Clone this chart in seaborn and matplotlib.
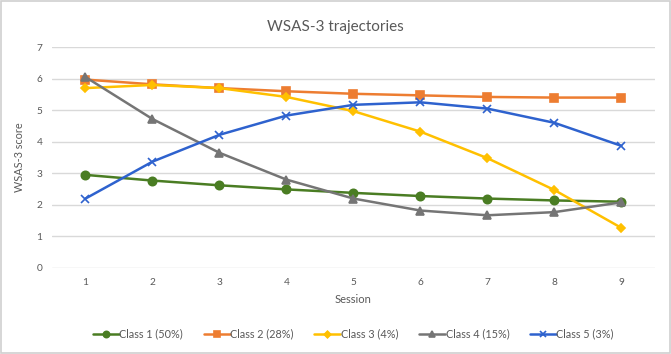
import matplotlib
matplotlib.use("Agg")
import matplotlib.pyplot as plt
import seaborn as sns
import pandas as pd
from matplotlib.patches import Rectangle

sessions = [1, 2, 3, 4, 5, 6, 7, 8, 9]
class_names = ["Class 1 (50%)", "Class 2 (28%)", "Class 3 (4%)", "Class 4 (15%)", "Class 5 (3%)"]
class1 = [2.95, 2.77, 2.62, 2.49, 2.38, 2.28, 2.20, 2.14, 2.10]
class2 = [5.97, 5.82, 5.70, 5.60, 5.52, 5.47, 5.42, 5.40, 5.40]
class3 = [5.70, 5.80, 5.70, 5.42, 4.97, 4.32, 3.48, 2.47, 1.27]
class4 = [6.05, 4.72, 3.65, 2.80, 2.20, 1.82, 1.67, 1.77, 2.08]
class5 = [2.20, 3.37, 4.22, 4.83, 5.17, 5.25, 5.05, 4.60, 3.87]
yticks = [0, 1, 2, 3, 4, 5, 6, 7]

series = [class1, class2, class3, class4, class5]
rows = []
for name, vals in zip(class_names, series):
    for s, v in zip(sessions, vals):
        rows.append({"Session": s, "Score": v, "Class": name})
df = pd.DataFrame(rows)

colors = ["#4A7D23", "#ED7D31", "#FFC000", "#757575", "#2E62CE"]
markers = ["o", "s", "D", "^", "x"]
msizes = [6, 6, 4.5, 6, 5.5]

sns.set_theme(style="white")
plt.rcParams["font.family"] = ["Lato", "DejaVu Sans"]
txt = "#595959"

fig = plt.figure(figsize=(6.71, 3.54), dpi=100)
ax = fig.add_axes([0.0775, 0.243, 0.8985, 0.624])

for name, c, m, ms in zip(class_names, colors, markers, msizes):
    sub = df[df["Class"] == name]
    sns.lineplot(data=sub, x="Session", y="Score", color=c, marker=m,
                 markersize=ms, markeredgecolor=c, markerfacecolor=c,
                 markeredgewidth=1.2, linewidth=1.8, label=name, ax=ax)

ax.set_xlim(0.5, 9.5)
ax.set_ylim(0, 7)
ax.set_yticks(yticks)
ax.set_xticks(sessions)
ax.yaxis.grid(True, color="#D9D9D9", linewidth=1.0)
ax.set_axisbelow(True)
for sp in ax.spines.values():
    sp.set_visible(False)
ax.tick_params(axis="both", length=0, labelsize=7.3, colors=txt, pad=7)
ax.set_xlabel("Session", fontsize=8, color=txt, labelpad=5)
ax.set_ylabel("WSAS-3 score", fontsize=7.8, color=txt, labelpad=8)
fig.text(0.5, 0.925, "WSAS-3 trajectories", ha="center", va="center",
         fontsize=11, color=txt)

handles, labels = ax.get_legend_handles_labels()
ax.legend(handles, labels, loc="center", bbox_to_anchor=(0.5, -0.30), ncol=5,
          frameon=False, fontsize=7.8, labelcolor=txt, handlelength=2.4,
          handletextpad=0.05, columnspacing=1.9, markerscale=0.75)

fig.patches.append(Rectangle((0.001, 0.002), 0.997, 0.995, transform=fig.transFigure,
                             fill=False, edgecolor="#D0D0D0", linewidth=1.2))
fig.savefig("out.png", dpi=100)
